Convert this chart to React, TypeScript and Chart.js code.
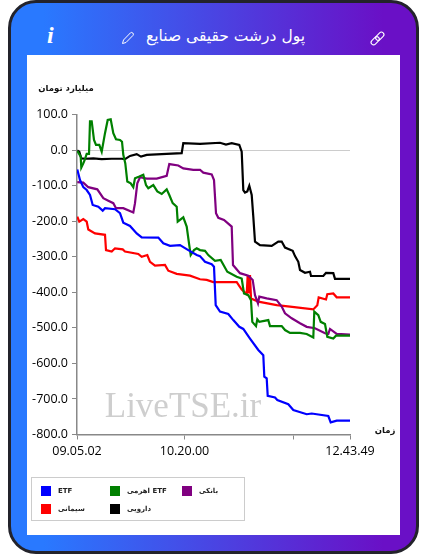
import React, { useEffect, useRef } from "react";
import { Chart, registerables } from "chart.js";

Chart.register(...registerables);

const title = "پول درشت حقیقی صنایع";
const yAxisTitle = "میلیارد تومان";
const xAxisTitle = "زمان";
const watermark = "LiveTSE.ir";

const xTickPositions = [0, 107.5, 216.5, 273];
const xTickLabels = ["09.05.02", "10.20.00", "", "12.43.49"];

const etfX = [0.3,3,6.3,9.7,13,15.7,21.3,25.7,28,38,43,46.3,53,59.7,64.7,81.3,86.3,93,103,111.3,119.7,123,128,134.7,137,138.7,143,151.3,156.3,162.3,166.3,173,181.3,186.3,187.3,189.7,190.7,198,200.3,211.3,216.3,229.7,234.7,251.3,253.7,259.7,273];
const etfY = [-54,-84,-104,-112,-126,-154,-159,-170,-163,-166,-177,-204,-213,-234,-245,-246,-262,-269,-267,-281,-295,-298,-314,-321,-328,-436,-454,-461,-478,-497,-503,-530,-562,-577,-637,-642,-691,-696,-703,-715,-731,-743,-741,-748,-766,-761,-761];

const leveragedX = [0.3,3.7,4.3,6.3,8,9.7,12,13,14.7,17,19,22.3,24.7,28,30.7,33.7,36.3,39,43,45,46.3,48.3,50.3,53.7,56.3,58,62.3,66.3,69,71.3,76.3,80.3,84.7,89.7,92.3,95.7,99.7,100.7,106.3,109.7,112,113.7,117,119.7,123,128,131.3,138,143.7,150.3,159.7,164.7,167,171.3,174,175.3,179,180.3,182.3,191.3,193,204.7,208,213,223,229.7,236.3,237.3,241.3,243.7,248,250.3,256.3,259,273];
const leveragedY = [-2,-18,-49,-37,-25,-10,-10,81,81,29,15,15,-4,48,85,87,48,31,29,24,-13,-37,-88,-93,-104,-79,-74,-69,-98,-107,-98,-116,-123,-110,-126,-149,-159,-201,-189,-215,-262,-295,-281,-276,-281,-283,-295,-311,-309,-342,-356,-361,-403,-408,-422,-483,-495,-476,-483,-478,-495,-495,-506,-514,-514,-517,-527,-454,-464,-483,-489,-525,-530,-522,-522];

const bankX = [0.3,6.3,11.3,20.3,26.3,31.3,36.3,39,46.3,56.3,58,60.3,63,69.7,79.7,89.7,92.3,101.3,106.3,116.3,123,126.3,134.7,137,139,141.3,147,154.7,156,163,171.3,175.7,178,181,182.3,189.7,199.7,204.7,208,214.7,223,229.7,238,248,251.3,253,259.7,273];
const bankY = [-90,-91,-104,-110,-135,-142,-149,-163,-163,-175,-149,-93,-76,-80,-80,-72,-39,-43,-51,-55,-55,-63,-68,-84,-177,-190,-196,-215,-323,-346,-353,-365,-408,-431,-412,-417,-422,-440,-459,-473,-487,-497,-501,-515,-517,-503,-517,-519];

const cementX = [0.3,2.3,6.3,9.7,11.3,18,28,29,34.7,38,45.7,48,61.3,64.7,70.3,73,78,88,91.3,99.7,113,123,129.7,136.3,159.7,164.7,169.7,170.7,172,173,174,181.3,199.7,213,236.3,240.3,241.7,249,250.3,256.3,259.7,273];
const cementY = [-187,-201,-194,-201,-223,-234,-238,-281,-285,-276,-279,-285,-292,-300,-295,-314,-325,-323,-339,-348,-353,-363,-365,-371,-371,-392,-405,-351,-403,-351,-417,-426,-436,-440,-448,-436,-414,-420,-405,-403,-414,-414];

const pharmaX = [0.3,2.3,4.3,8,16.3,24.7,34.7,44.7,48,53,59.7,64,69.7,89.7,104.7,106.3,123,143,149,154.7,162.3,164.7,166.3,168,170.3,172.3,174.7,176.3,178,183,194.7,201.3,204.7,208,215.7,218,221.3,223,228,233,234,246.3,249,256.3,258,273];
const pharmaY = [-1,-4,-23,-24,-23,-25,-24,-24,-25,-16,-11,-18,-13,-10,-8,20,18,21,16,20,15,-4,-112,-119,-116,-100,-126,-187,-257,-267,-269,-257,-257,-274,-283,-298,-314,-337,-345,-342,-354,-354,-345,-346,-362,-362];

const toPoints = (xs: number[], ys: number[]) => xs.map((x, i) => ({ x, y: ys[i] }));

const series = [
  { name: "ETF", color: "#0000ff", xs: etfX, ys: etfY },
  { name: "ETF اهرمی", color: "#008000", xs: leveragedX, ys: leveragedY },
  { name: "بانکی", color: "#800080", xs: bankX, ys: bankY },
  { name: "سیمانی", color: "#ff0000", xs: cementX, ys: cementY },
  { name: "دارویی", color: "#000000", xs: pharmaX, ys: pharmaY },
];

const FONT = '"Open Sans", "DejaVu Sans", sans-serif';
const FA_FONT = '"DejaVu Sans", sans-serif';

const overlay = {
  id: "overlayText",
  afterDraw(chart: any) {
    const { ctx, chartArea } = chart;
    ctx.save();
    ctx.fillStyle = "#111";
    ctx.font = `bold 8.5px ${FA_FONT}`;
    ctx.textBaseline = "middle";
    ctx.textAlign = "center";
    ctx.direction = "rtl";
    ctx.fillText(yAxisTitle, chartArea.left - 11, chartArea.top - 26);
    ctx.fillText(xAxisTitle, chartArea.right + 35, chartArea.bottom - 4);
    ctx.direction = "ltr";
    ctx.fillStyle = "rgba(190,190,190,0.75)";
    ctx.font = '35px "Liberation Serif", serif';
    ctx.fillText(watermark, chartArea.left + 106, chartArea.bottom - 27);
    ctx.restore();
  },
};

export default function App() {
  const ref = useRef<HTMLCanvasElement>(null);
  useEffect(() => {
    const chart = new Chart(ref.current!, {
      type: "line",
      data: {
        datasets: series.map((s) => ({
          label: s.name,
          data: toPoints(s.xs, s.ys),
          borderColor: s.color,
          backgroundColor: s.color,
          borderWidth: 2.2,
          pointRadius: 0,
          tension: 0,
        })),
      },
      options: {
        animation: false,
        responsive: false,
        layout: { padding: { left: 0, right: 50, top: 59.7, bottom: 60.5 } },
        plugins: { legend: { display: false }, tooltip: { enabled: false } },
        scales: {
          x: {
            type: "linear",
            min: 0,
            max: 273,
            afterFit: (s: any) => { s.height = 40; },
            afterBuildTicks: (s: any) => { s.ticks = xTickPositions.map((value) => ({ value })); },
            ticks: {
              autoSkip: false,
              maxRotation: 0,
              color: "#000",
              padding: 4,
              font: { family: FONT, size: 12.5 },
              callback: (v: any) => xTickLabels[xTickPositions.indexOf(Number(v))] ?? "",
            },
            grid: { color: "transparent", tickColor: "#888", tickLength: 5, drawOnChartArea: false },
            border: { color: "#888", width: 1.5 },
          },
          y: {
            type: "linear",
            min: -800,
            max: 100,
            afterFit: (s: any) => { s.width = 50; },
            ticks: {
              stepSize: 100,
              color: "#000",
              padding: 4,
              font: { family: FONT, size: 12.5 },
              callback: (v: any) => Number(v).toFixed(1),
            },
            grid: {
              color: (c: any) => (c.tick && c.tick.value === 0 ? "#cccccc" : "transparent"),
              tickColor: "#888",
              tickLength: 5,
            },
            border: { color: "#888", width: 1.5 },
          },
        },
      },
      plugins: [overlay],
    } as any);
    return () => chart.destroy();
  }, []);

  const legendPos = [
    [9, 8],
    [78, 8],
    [150, 8],
    [9, 26],
    [78, 26],
  ];

  return (
    <div style={{ position: "absolute", left: 0, top: 0, width: 427, height: 559, background: "#fff", overflow: "hidden" }}>
      <div
        style={{
          position: "absolute",
          left: 8,
          top: 0,
          width: 411,
          height: 554,
          boxSizing: "border-box",
          border: "3px solid #23232b",
          borderRadius: 28,
          background: "linear-gradient(90deg, #2979ff 8%, #6a10c6 92%)",
        }}
      />
      <div style={{ position: "absolute", left: 27, top: 23, width: 373, height: 26, display: "flex", justifyContent: "center", alignItems: "center", color: "#fff", fontFamily: FA_FONT, fontSize: 15.5, paddingLeft: 24, boxSizing: "border-box" }} dir="rtl">
        {title}
      </div>
      <div style={{ position: "absolute", left: 47, top: 22, color: "#fff", fontFamily: '"Liberation Serif", serif', fontStyle: "italic", fontWeight: 700, fontSize: 24 }}>i</div>
      <svg style={{ position: "absolute", left: 121, top: 31 }} width="14" height="14" viewBox="0 0 14 14" fill="none" stroke="#fff" strokeWidth="1">
        <path d="M1.5 12.5 L2.5 9 L9.5 1.8 Q10.6 0.9 11.8 2 Q13 3.2 12 4.4 L5 11.5 Z" />
      </svg>
      <svg style={{ position: "absolute", left: 369, top: 30 }} width="17" height="17" viewBox="0 0 17 17" fill="none" stroke="#fff" strokeWidth="1.1">
        <g transform="rotate(-45 8.5 8.5)">
          <rect x="0.5" y="6" width="9.5" height="5" rx="2.5" />
          <rect x="7" y="6" width="9.5" height="5" rx="2.5" />
        </g>
      </svg>
      <div style={{ position: "absolute", left: 27, top: 55, width: 373, height: 480, background: "#fff" }}>
        <canvas ref={ref} width={373} height={480} style={{ display: "block" }} />
      </div>
      <div style={{ position: "absolute", left: 31, top: 477, width: 214, height: 44, boxSizing: "border-box", border: "1px solid #ccc" }}>
        {series.map((s, i) => (
          <React.Fragment key={s.name}>
            <div style={{ position: "absolute", left: legendPos[i][0], top: legendPos[i][1], width: 10, height: 10, background: s.color }} />
            <div dir="rtl" style={{ position: "absolute", left: legendPos[i][0] + 17, top: legendPos[i][1] - 1, fontFamily: FA_FONT, fontSize: 7, fontWeight: 700, color: "#222", whiteSpace: "nowrap", lineHeight: "12px" }}>
              {s.name}
            </div>
          </React.Fragment>
        ))}
      </div>
    </div>
  );
}
